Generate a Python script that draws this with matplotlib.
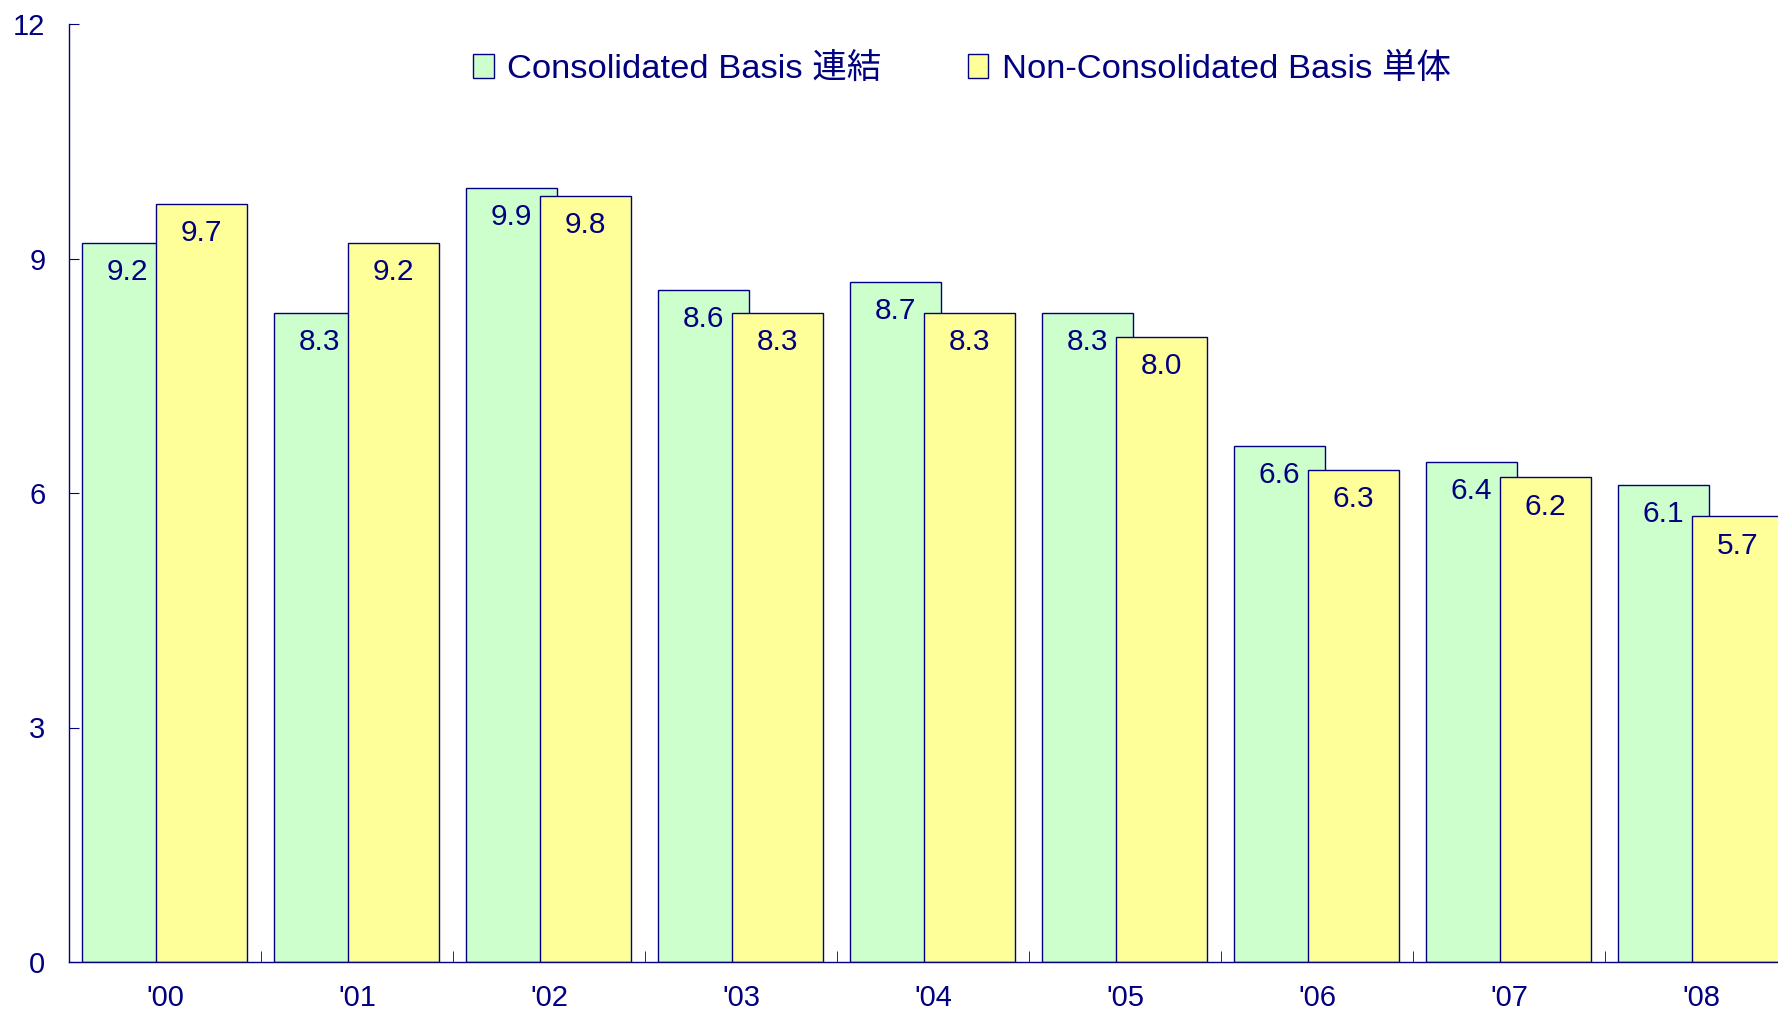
import matplotlib.pyplot as plt
import numpy as np

plt.rcParams['font.family'] = ['Liberation Sans', 'Noto Sans CJK JP']

years = ["'00", "'01", "'02", "'03", "'04", "'05", "'06", "'07", "'08"]
consolidated = [9.2, 8.3, 9.9, 8.6, 8.7, 8.3, 6.6, 6.4, 6.1]
non_consolidated = [9.7, 9.2, 9.8, 8.3, 8.3, 8.0, 6.3, 6.2, 5.7]

navy = '#000080'
green = '#CCFFCC'
yellow = '#FFFF99'

fig = plt.figure(figsize=(17.78, 10.11), dpi=100)
# plot area runs slightly past the right edge, like the cropped original
ax = fig.add_axes([69 / 1778, 49 / 1011, 1728 / 1778, 938 / 1011])

x = np.arange(len(years))
w = 0.47
b1 = ax.bar(x - 0.195, consolidated, w, color=green, edgecolor=navy, linewidth=1.0,
            label='Consolidated Basis 連結')
b2 = ax.bar(x + 0.19, non_consolidated, w, color=yellow, edgecolor=navy, linewidth=1.0,
            label='Non-Consolidated Basis 単体')

for bars, vals in [(b1, consolidated), (b2, non_consolidated)]:
    for r, v in zip(bars, vals):
        ax.annotate(f'{v:.1f}', (r.get_x() + r.get_width() / 2, v), xytext=(0, -21),
                    textcoords='offset points', ha='center', va='center',
                    fontsize=21.5, color=navy, zorder=5)

ax.set_xlim(-0.5, len(years) - 0.5)
ax.set_ylim(0, 12)
ax.set_yticks([0, 3, 6, 9, 12])
ax.set_xticks(x)
ax.set_xticklabels(years)
ax.set_xticks(np.arange(len(years) + 1) - 0.5, minor=True)

for s in ['top', 'right']:
    ax.spines[s].set_visible(False)
for s in ['left', 'bottom']:
    ax.spines[s].set_color(navy)
    ax.spines[s].set_linewidth(1.0)

ax.tick_params(axis='y', direction='in', length=7, color=navy, labelcolor=navy,
               labelsize=21, pad=17)
ax.tick_params(axis='x', which='major', length=0, labelcolor=navy, labelsize=21, pad=16)
ax.tick_params(axis='x', which='minor', direction='in', length=8, color=navy)

ax.legend(loc='center left', bbox_to_anchor=(473 / 1778, (1011 - 69) / 1011),
          bbox_transform=fig.transFigure, ncol=2, frameon=False, fontsize=24.8,
          labelcolor=navy, handlelength=0.6, handleheight=0.7, handletextpad=0.4,
          columnspacing=2.5, borderpad=0, borderaxespad=0)

fig.savefig('out.png', dpi=100)
